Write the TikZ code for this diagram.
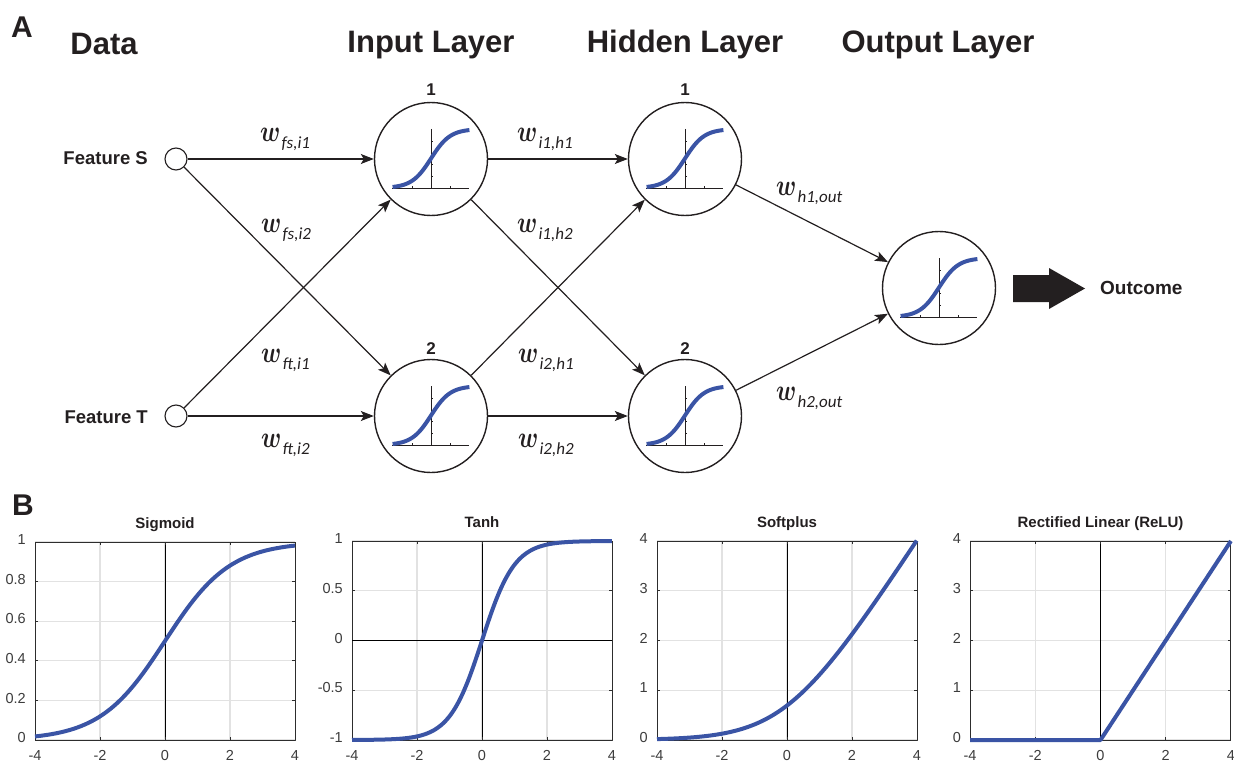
\documentclass[tikz,border=0pt]{standalone}
\usepackage{fontspec}
\setmainfont{Liberation Sans}
\newfontfamily\subfont{Carlito}
\usetikzlibrary{arrows.meta}
\definecolor{ink}{RGB}{35,31,32}
\definecolor{curveblue}{RGB}{58,84,165}
\definecolor{gridgray}{RGB}{226,226,226}
\definecolor{framegray}{RGB}{45,45,45}
\definecolor{ticklab}{RGB}{60,60,60}
\newcommand{\wlab}[1]{\scalebox{0.95}[1.2]{\fontsize{24.88}{25}\selectfont\boldmath$w$}\kern1pt\raisebox{-7pt}{\subfont\itshape\fontsize{17}{17}\selectfont #1}}
\newcommand{\frameplot}[5]{%
  \foreach \g in {-2,0,2} \draw[gridc] (\g,#2) -- (\g,#3);
  \foreach \v/\l in {#4} \draw[gridc] (-4,\v) -- (4,\v);
  \draw[zeroax] (0,#2) -- (0,#3);
  \draw[boxc] (-4,#2) rectangle (4,#3);
  \foreach \g [count=\k] in {-4,-2,0,2,4} {
    \draw[boxc] (\g,#2) -- ++(0pt,3pt);
    \draw[boxc] (\g,#3) -- ++(0pt,-3pt);
    \node[ticklbl, anchor=base] (#1x\k) at ([yshift=-20pt]\g,#2) {\g};
  }
  \foreach \v/\l [count=\k] in {#4} {
    \draw[boxc] (-4,\v) -- ++(3pt,0pt);
    \draw[boxc] (4,\v) -- ++(-3pt,0pt);
    \node[ticklbl, anchor=mid east] (#1y\k) at ([xshift=-9pt]-4,\v) {\l};
  }
  \node[ptitle, anchor=base] (#1t) at ([yshift=14pt]0,#3) {#5};
}
\begin{document}
\begin{tikzpicture}[x=1pt,y=-1pt,line join=round,
  every node/.style={text=ink, inner sep=0pt},
  ttl/.style={font=\fontsize{31}{31}\selectfont\bfseries, anchor=base},
  panel/.style={font=\fontsize{30}{30}\selectfont\bfseries, anchor=base west},
  feat/.style={font=\fontsize{18.5}{18.5}\selectfont\bfseries, anchor=base east},
  fnode/.style={circle, draw=ink, line width=1.1pt, minimum size=22pt, fill=white},
  neuron/.style={circle, draw=ink, line width=1.4pt, minimum size=113pt},
  num/.style={font=\fontsize{17}{17}\selectfont\bfseries, anchor=base},
  conn/.style={draw=ink, line width=1.2pt, -{Stealth[length=13pt,width=10pt,inset=3pt]}},
  wl/.style={anchor=base west},
  gridc/.style={draw=gridgray, line width=1.2pt},
  zeroax/.style={draw=black, line width=0.8pt},
  boxc/.style={draw=framegray, line width=0.9pt},
  ticklbl/.style={text=ticklab, font=\fontsize{14.5}{14.5}\selectfont},
  ptitle/.style={text=ink, font=\fontsize{15}{15}\selectfont\bfseries},
  curve/.style={draw=curveblue, line width=4pt},
  sigicon/.pic={
    \draw[ink, line width=0.6pt] (-39,29) -- (38,29);
    \draw[ink, line width=0.6pt] (0,-30) -- (0,29);
    \foreach \t in {-19,19} \draw[ink, line width=0.5pt] (\t,29) -- (\t,27);
    \foreach \t in {-18,-6,5,17} \draw[ink, line width=0.5pt] (0,\t) -- (2,\t);
    \draw[curveblue, line width=4pt] plot[domain=-4:4, samples=60, smooth] ({\x*9.6}, {29-59/(1+exp(-\x))});
  }]
\useasboundingbox (0,0) rectangle (1234,765);
% panel letters and titles
\node[panel] (pA) at (11,37.5) {A};
\node[panel] (pB) at (12,515) {B};
\node[ttl] (tdata) at (104,55) {Data};
\node[ttl] (tin) at (431,53) {Input Layer};
\node[ttl] (thid) at (685,53) {Hidden Layer};
\node[ttl] (tout) at (938,53) {Output Layer};
% features
\node[feat] (lfs) at (148,164.5) {Feature S};
\node[feat] (lft) at (148,423) {Feature T};
\node[fnode] (fs) at (176,159) {};
\node[fnode] (ft) at (176,416) {};
% neurons
\node[neuron] (i1) at (431,159) {};
\node[neuron] (i2) at (431,416) {};
\node[neuron] (h1) at (685,159) {};
\node[neuron] (h2) at (685,416) {};
\node[neuron] (o) at (939,288) {};
\foreach \n in {i1,i2,h1,h2,o} \pic at (\n.center) {sigicon};
\node[num] (ni1) at (431,96) {1};
\node[num] (ni2) at (431,354) {2};
\node[num] (nh1) at (685,96) {1};
\node[num] (nh2) at (685,354) {2};
% connectors
\draw[conn] (fs) -- (i1);
\draw[conn] (fs) -- (i2);
\draw[conn] (ft) -- (i1);
\draw[conn] (ft) -- (i2);
\draw[conn] (i1) -- (h1);
\draw[conn] (i1) -- (h2);
\draw[conn] (i2) -- (h1);
\draw[conn] (i2) -- (h2);
\draw[conn] (h1) -- (o);
\draw[conn] (h2) -- (o);
% weights
\node[wl] (wfsi1) at (260,142) {\wlab{fs,i1}};
\node[wl] (wfsi2) at (261,232) {\wlab{fs,i2}};
\node[wl] (wfti1) at (261,362) {\wlab{ft,i1}};
\node[wl] (wfti2) at (261,447) {\wlab{ft,i2}};
\node[wl] (wi1h1) at (517,142) {\wlab{i1,h1}};
\node[wl] (wi1h2) at (517,232) {\wlab{i1,h2}};
\node[wl] (wi2h1) at (518,362) {\wlab{i2,h1}};
\node[wl] (wi2h2) at (518,447) {\wlab{i2,h2}};
\node[wl] (wh1o) at (776,195) {\wlab{h1,out}};
\node[wl] (wh2o) at (776,400) {\wlab{h2,out}};
% outcome arrow
\fill[ink] (1013,275) -- (1049,275) -- (1049,268) -- (1085,288.5) -- (1049,309) -- (1049,302) -- (1013,302) -- cycle;
\node[anchor=west, font=\fontsize{19}{19}\selectfont\bfseries] (outc) at (1100,288) {Outcome};
% panel B plots
\begin{scope}[xshift=165pt, yshift=-740pt, x=32.5pt, y=198pt]
  \frameplot{s}{0}{1}{0/0,0.2/0.2,0.4/0.4,0.6/0.6,0.8/0.8,1/1}{Sigmoid}
  \draw[curve] plot[domain=-4:4, samples=80, smooth] (\x,{1/(1+exp(-\x))});
\end{scope}
\begin{scope}[xshift=482pt, yshift=-640.5pt, x=32.5pt, y=99.5pt]
  \frameplot{t}{-1}{1}{-1/-1,-0.5/-0.5,0/0,0.5/0.5,1/1}{Tanh}
  \draw[zeroax] (-4,0) -- (4,0);
  \draw[curve] plot[domain=-4:4, samples=80, smooth] (\x,{tanh(\x)});
\end{scope}
\begin{scope}[xshift=787pt, yshift=-740pt, x=32.5pt, y=49.75pt]
  \frameplot{p}{0}{4}{0/0,1/1,2/2,3/3,4/4}{Softplus}
  \draw[curve] plot[domain=-4:3.99, samples=80, smooth] (\x,{ln(1+exp(\x))});
\end{scope}
\begin{scope}[xshift=1100.5pt, yshift=-740pt, x=32.6pt, y=49.75pt]
  \frameplot{r}{0}{4}{0/0,1/1,2/2,3/3,4/4}{Rectified Linear (ReLU)}
  \draw[curve] (-4,0) -- (0,0) -- (4,4);
\end{scope}
\end{tikzpicture}
\end{document}
